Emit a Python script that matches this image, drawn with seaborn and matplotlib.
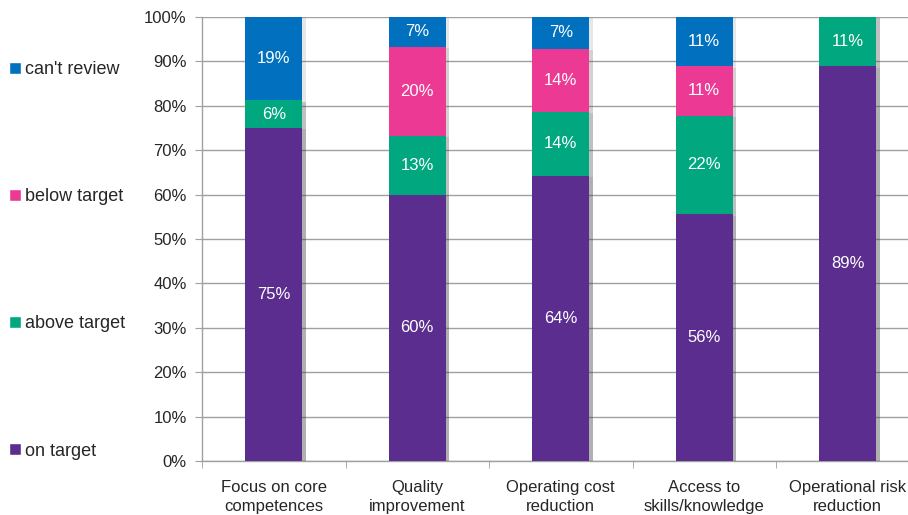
import matplotlib
matplotlib.use("Agg")
import matplotlib.pyplot as plt
import matplotlib.patheffects as pe
from matplotlib.patches import Patch
import numpy as np
import pandas as pd
import seaborn as sns

categories = ["Focus on core\ncompetences", "Quality\nimprovement", "Operating cost\nreduction",
              "Access to\nskills/knowledge", "Operational risk\nreduction"]
on_target = [75.0, 60.0, 64.3, 55.6, 88.9]
above_target = [6.25, 13.3, 14.3, 22.2, 11.1]
below_target = [0.0, 20.0, 14.3, 11.1, 0.0]
cant_review = [18.75, 6.7, 7.1, 11.1, 0.0]

series = ["on target", "above target", "below target", "can't review"]
colors = {"on target": "#5B2D8E", "above target": "#00A77F",
          "below target": "#EC3A94", "can't review": "#0070BF"}

df = pd.DataFrame({"category": categories, "on target": on_target,
                   "above target": above_target, "below target": below_target,
                   "can't review": cant_review})

sns.set_style("white")
plt.rcParams["font.family"] = ["Liberation Sans", "DejaVu Sans"]

fig = plt.figure(figsize=(9.08, 5.15), dpi=100)
W, H = 908, 515
left, right, top, bottom = 202, 919.5, 17, 461
ax = fig.add_axes([left / W, 1 - bottom / H, (right - left) / W, (bottom - top) / H])

shadow = [pe.SimplePatchShadow(offset=(2.5, -1), alpha=0.12, shadow_rgbFace="#404040"), pe.Normal()]

# cumulative heights, drawn tallest first so each segment shows on top
cum = df[series].cumsum(axis=1)
for s in reversed(series):
    sns.barplot(x=df["category"], y=cum[s], color=colors[s], width=0.4,
                saturation=1, ax=ax, zorder=3)
for p in ax.patches:
    p.set_path_effects(shadow)
    p.set_edgecolor("none")

# segment labels
for i in range(len(categories)):
    base = 0.0
    for s in series:
        v = df.loc[i, s]
        if v > 0:
            ax.text(i, base + v / 2, f"{v:.0f}%", ha="center", va="center",
                    color="white", fontsize=12, zorder=5)
        base += v

ax.set_ylim(0, 100)
ax.set_xlim(-0.5, len(categories) - 0.5)
ax.set_yticks(np.arange(0, 101, 10))
ax.set_yticklabels([f"{t}%" for t in range(0, 101, 10)], fontsize=12)
ax.set_xlabel("")
ax.set_ylabel("")
ax.tick_params(axis="x", length=0, labelsize=12, pad=14)
for lab in ax.get_xticklabels():
    lab.set_linespacing(1.3)
ax.tick_params(axis="y", length=5, color="#A0A0A0", direction="out", pad=6, left=True)
# ticks between categories
ax.set_xticks(np.arange(-0.5, len(categories)), minor=True)
ax.tick_params(axis="x", which="minor", length=5, color="#A0A0A0", direction="out", bottom=True)
ax.grid(axis="y", color="#A0A0A0", linewidth=1, zorder=0)
ax.set_axisbelow(True)
for sp in ["top", "right"]:
    ax.spines[sp].set_visible(False)
for sp in ["left", "bottom"]:
    ax.spines[sp].set_color("#A0A0A0")
    ax.spines[sp].set_linewidth(1)

handles = [Patch(facecolor=colors[s], label=s) for s in reversed(series)]
fig.legend(handles=handles, loc="upper left", bbox_to_anchor=(2 / W, 1 - 54 / H),
           frameon=False, fontsize=13, handlelength=0.65, handleheight=0.65,
           handletextpad=0.22, labelspacing=6.1, borderaxespad=0)

fig.savefig("out.png", dpi=100)
